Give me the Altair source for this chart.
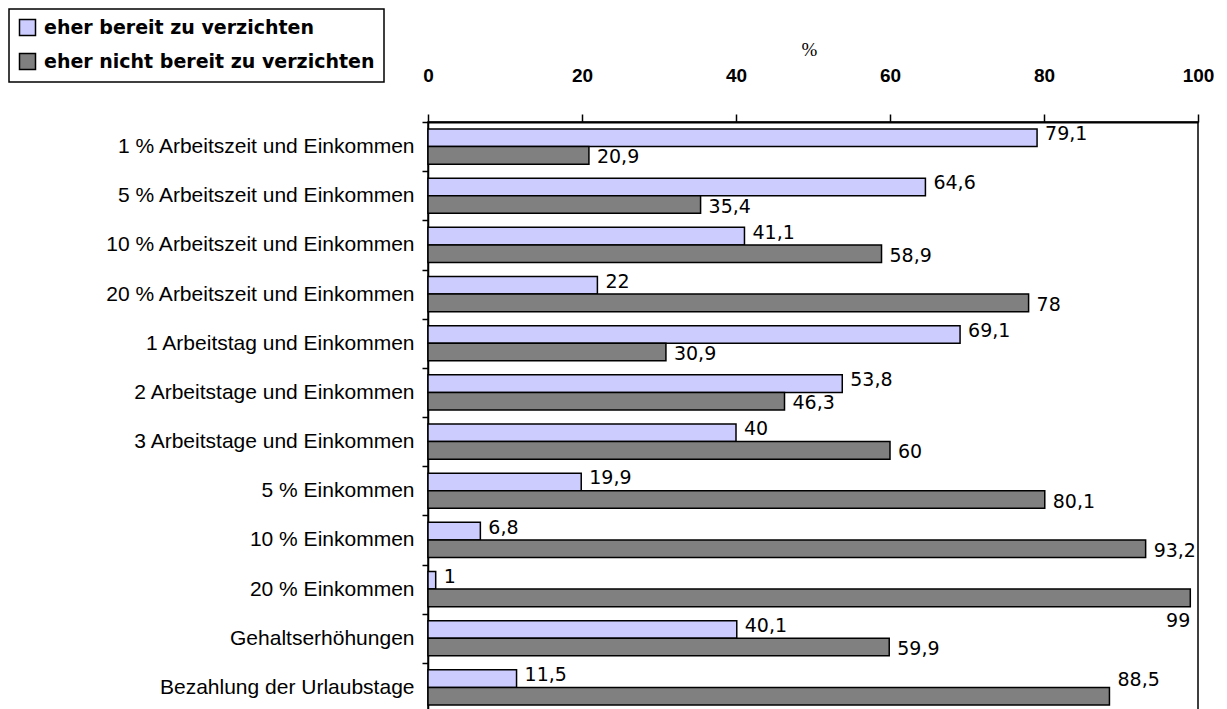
import altair as alt
import pandas as pd

# Survey answers: willingness to give up working time / income (percent)
categories = [
    "1 % Arbeitszeit und Einkommen",
    "5 % Arbeitszeit und Einkommen",
    "10 % Arbeitszeit und Einkommen",
    "20 % Arbeitszeit und Einkommen",
    "1 Arbeitstag und Einkommen",
    "2 Arbeitstage und Einkommen",
    "3 Arbeitstage und Einkommen",
    "5 % Einkommen",
    "10 % Einkommen",
    "20 % Einkommen",
    "Gehaltserhöhungen",
    "Bezahlung der Urlaubstage",
]
series = ["eher bereit zu verzichten", "eher nicht bereit zu verzichten"]
bereit = [79.1, 64.6, 41.1, 22, 69.1, 53.8, 40, 19.9, 6.8, 1, 40.1, 11.5]
nicht_bereit = [20.9, 35.4, 58.9, 78, 30.9, 46.3, 60, 80.1, 93.2, 99, 59.9, 88.5]
x_ticks = [0, 20, 40, 60, 80, 100]
colors = ["#CCCCFF", "#808080"]

rows = []
for cat, a, b in zip(categories, bereit, nicht_bereit):
    rows.append({"Kategorie": cat, "Reihe": series[0], "Wert": a})
    rows.append({"Kategorie": cat, "Reihe": series[1], "Wert": b})
df = pd.DataFrame(rows)

base = alt.Chart(df).transform_calculate(
    Label="replace(toString(datum.Wert), '.', ',')"
).encode(
    y=alt.Y(
        "Kategorie:N",
        sort=categories,
        title=None,
        scale=alt.Scale(paddingInner=0, paddingOuter=0),
        axis=alt.Axis(
            tickBand="extent",
            tickSize=6,
            tickWidth=1.5,
            tickColor="black",
            domainColor="black",
            domainWidth=1.5,
            labelFont="Liberation Sans",
            labelFontSize=21,
            labelColor="black",
            labelPadding=8,
            labelLimit=400,
        ),
    ),
    yOffset=alt.YOffset(
        "Reihe:N", sort=series, scale=alt.Scale(paddingInner=0, paddingOuter=0.4)
    ),
)

bars = base.mark_bar(stroke="black", strokeWidth=1.5).encode(
    x=alt.X(
        "Wert:Q",
        scale=alt.Scale(domain=[0, 100], nice=False),
        axis=alt.Axis(
            orient="top",
            values=x_ticks,
            grid=False,
            title="%",
            titleFont="Liberation Serif",
            titleFontSize=19,
            titleFontWeight="normal",
            titleColor="black",
            titleX=381,
            titleY=-73,
            titleBaseline="middle",
            titleAlign="center",
            tickSize=8,
            tickWidth=1.5,
            tickColor="black",
            domainColor="black",
            domainWidth=2,
            labelFont="Liberation Sans",
            labelFontSize=19,
            labelFontWeight="bold",
            labelColor="black",
            labelBaseline="middle",
            labelPadding=39,
            labelFlush=False,
        ),
    ),
    color=alt.Color(
        "Reihe:N",
        sort=series,
        scale=alt.Scale(domain=series, range=colors),
        legend=alt.Legend(
            title=None,
            orient="none",
            legendX=-419,
            legendY=-113,
            direction="vertical",
            fillColor="white",
            strokeColor="black",
            padding=9,
            symbolType="square",
            symbolSize=256,
            symbolStrokeColor="black",
            symbolStrokeWidth=1.5,
            symbolOpacity=1,
            labelFont="DejaVu Sans",
            labelFontSize=19,
            labelFontWeight="bold",
            labelColor="black",
            labelOffset=7,
            labelLimit=400,
            rowPadding=11,
        ),
    ),
)

text_style = dict(font="DejaVu Sans", fontSize=19, color="black", baseline="middle")

light_labels = base.transform_filter(
    alt.datum.Reihe == series[0]
).mark_text(align="left", dx=8, dy=-3.5, **text_style).encode(
    x="Wert:Q", text="Label:N"
)

dark_labels = base.transform_filter(
    (alt.datum.Reihe == series[1])
    & (alt.datum.Wert < 95)
    & (alt.datum.Kategorie != categories[-1])
).mark_text(align="left", dx=8, dy=2, **text_style).encode(
    x="Wert:Q", text="Label:N"
)

# labels near the right edge go underneath the bar end
dark_edge_labels = base.transform_filter(
    (alt.datum.Reihe == series[1]) & (alt.datum.Wert >= 95)
).mark_text(align="right", dx=0, dy=23, **text_style).encode(
    x="Wert:Q", text="Label:N"
)

# last row: label lifted above its bar
dark_last_label = base.transform_filter(
    (alt.datum.Reihe == series[1]) & (alt.datum.Kategorie == categories[-1])
).mark_text(align="left", dx=8, dy=-16.5, **text_style).encode(
    x="Wert:Q", text="Label:N"
)

chart = (
    alt.layer(bars, light_labels, dark_labels, dark_edge_labels, dark_last_label)
    .properties(
        width=770,
        height=590,
        autosize=alt.AutoSizeParams(type="none"),
        padding={"left": 428, "top": 122, "right": 29, "bottom": 0},
        background="white",
    )
    .configure_view(stroke="black", strokeWidth=1.5)
    .configure_legend(strokeWidth=1.5)
)

chart.save("out.html", embed_options={"renderer": "svg", "actions": False})
